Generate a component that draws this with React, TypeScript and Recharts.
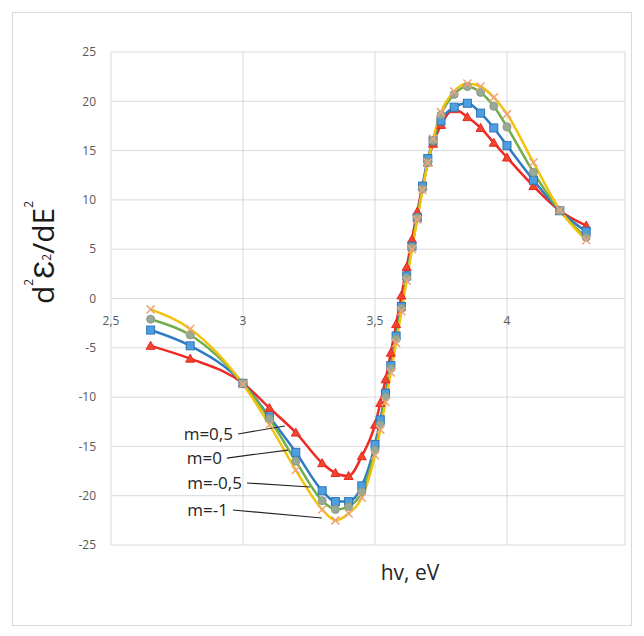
import React from 'react';
import { LineChart, Line, XAxis, YAxis, CartesianGrid, ReferenceLine, ReferenceDot, Label } from 'recharts';

// photon energy, eV
const energy = [2.65, 2.8, 3.0, 3.1, 3.2, 3.3, 3.35, 3.4, 3.45, 3.5, 3.52, 3.54, 3.56, 3.58, 3.6, 3.62, 3.64, 3.66, 3.68, 3.7, 3.72, 3.75, 3.8, 3.85, 3.9, 3.95, 4.0, 4.1, 4.2, 4.3];

// d2e2/dE2 for each m
const mHalf = [-4.8, -6.1, -8.6, -11.1, -13.6, -16.7, -17.7, -18.0, -16.0, -12.8, -10.6, -8.2, -5.5, -2.6, 0.3, 3.2, 6.0, 8.8, 11.4, 13.8, 15.7, 17.6, 19.2, 18.4, 17.3, 15.8, 14.3, 11.4, 8.9, 7.4];
const mZero = [-3.2, -4.8, -8.6, -12.0, -15.6, -19.5, -20.6, -20.6, -19.0, -14.8, -12.3, -9.6, -6.8, -3.8, -0.8, 2.3, 5.3, 8.2, 11.4, 14.2, 16.0, 18.0, 19.4, 19.8, 18.8, 17.3, 15.5, 12.0, 8.9, 6.8];
const mMinusHalf = [-2.1, -3.7, -8.6, -12.2, -16.5, -20.5, -21.4, -21.1, -19.6, -15.4, -12.8, -10.0, -7.1, -4.1, -1.0, 2.1, 5.2, 8.2, 11.1, 13.8, 16.0, 18.6, 20.7, 21.5, 20.9, 19.5, 17.4, 12.8, 8.9, 6.2];
const mMinusOne = [-1.1, -3.1, -8.7, -12.8, -17.4, -21.4, -22.5, -21.8, -20.2, -15.9, -13.3, -10.5, -7.5, -4.5, -1.3, 1.8, 5.0, 8.0, 11.0, 13.8, 16.2, 18.9, 21.0, 21.8, 21.5, 20.4, 18.7, 13.8, 9.0, 5.9];

const xTicks = [2.5, 3, 3.5, 4];
const yTicks = [-25, -20, -15, -10, -5, 0, 5, 10, 15, 20, 25];

// callout labels pointing at the curves (data coords)
const callouts = [
  { text: 'm=0,5', x1: 2.981, y1: -13.74, x2: 3.159, y2: -12.93 },
  { text: 'm=0', x1: 2.939, y1: -16.18, x2: 3.17, y2: -15.37 },
  { text: 'm=-0,5', x1: 3.015, y1: -18.71, x2: 3.254, y2: -19.12 },
  { text: 'm=-1', x1: 2.962, y1: -21.45, x2: 3.299, y2: -22.26 },
];

const data = energy.map((x, i) => ({ x, a: mHalf[i], b: mZero[i], c: mMinusHalf[i], d: mMinusOne[i] }));

const W = 644;
const H = 636;
const PLOT_TOP = 52;
const PLOT_BOTTOM = 545;
const ZERO_Y = PLOT_TOP + (PLOT_BOTTOM - PLOT_TOP) / 2;
const FONT = "'Open Sans', sans-serif";

const fmt = (v: number) => String(v).replace('.', ',');

const XTick = (props: any) => {
  const { x, payload } = props;
  return (
    <text x={x} y={ZERO_Y + 26} textAnchor="middle" fill="#595959" fontSize={12} fontFamily={FONT}>
      {fmt(payload.value)}
    </text>
  );
};

const triangle = (props: any) => {
  const { cx, cy, index } = props;
  if (cx == null || cy == null) return null;
  return <path key={`tr-${index}`} d={`M${cx},${cy - 4.5}L${cx + 4.5},${cy + 3.5}L${cx - 4.5},${cy + 3.5}Z`} fill="#f0452e" stroke="#e62a22" strokeWidth={1} />;
};

const square = (props: any) => {
  const { cx, cy, index } = props;
  if (cx == null || cy == null) return null;
  return <rect key={`sq-${index}`} x={cx - 4} y={cy - 4} width={8} height={8} fill="#4d9fe0" stroke="#2e75b6" strokeWidth={1} />;
};

const circle = (props: any) => {
  const { cx, cy, index } = props;
  if (cx == null || cy == null) return null;
  return <circle key={`ci-${index}`} cx={cx} cy={cy} r={4} fill="#9aa896" stroke="#8a9a86" strokeWidth={1} />;
};

const cross = (props: any) => {
  const { cx, cy, index } = props;
  if (cx == null || cy == null) return null;
  return (
    <path key={`cr-${index}`} d={`M${cx - 4},${cy - 4}L${cx + 4},${cy + 4}M${cx - 4},${cy + 4}L${cx + 4},${cy - 4}`} stroke="#eea47a" strokeWidth={1.5} fill="none" />
  );
};

const YTitle = (props: any) => {
  const vb = props.viewBox;
  const cx = vb.x + 42;
  const cy = vb.y + vb.height / 2 - 46;
  return (
    <text transform={`translate(${cx},${cy}) rotate(-90)`} textAnchor="middle" dominantBaseline="central" fill="#1a1a1a" fontSize={30} fontFamily={FONT}>
      d<tspan fontSize={12} dy={-14}>2</tspan>
      <tspan dy={14}>Ɛ</tspan>
      <tspan fontSize={12} dy={4}>2</tspan>
      <tspan dy={-4}>/dE</tspan>
      <tspan fontSize={12} dy={-14}>2</tspan>
    </text>
  );
};

const XTitle = (props: any) => {
  const vb = props.viewBox;
  return (
    <text x={vb.x + vb.width / 2 + 42} y={vb.y + 35} textAnchor="middle" fill="#262626" fontSize={21} fontFamily={FONT}>
      hv, eV
    </text>
  );
};

export default function App() {
  return (
    <div style={{ position: 'absolute', left: 0, top: 0, width: W, height: H, background: '#fff' }}>
      <div style={{ position: 'absolute', left: 12, top: 12, width: 620, height: 614, border: '1px solid #d9d9d9', boxSizing: 'border-box' }} />
      <LineChart width={W} height={H} data={data} margin={{ top: PLOT_TOP, right: 19, bottom: 0, left: 0 }}>
        <CartesianGrid stroke="#d9d9d9" strokeWidth={1} />
        <XAxis
          type="number"
          dataKey="x"
          domain={[2.5, 4.447]}
          ticks={xTicks}
          axisLine={false}
          tickLine={false}
          height={H - PLOT_BOTTOM}
          tick={<XTick />}
        >
          <Label content={<XTitle />} />
        </XAxis>
        <YAxis
          type="number"
          domain={[-25, 25]}
          ticks={yTicks}
          width={111}
          axisLine={false}
          tickLine={false}
          tickSize={0}
          tickMargin={15}
          tick={{ fill: '#595959', fontSize: 12, fontFamily: FONT }}
        >
          <Label content={<YTitle />} />
        </YAxis>
        <Line type="monotone" dataKey="a" stroke="#ee2a24" strokeWidth={2.5} dot={triangle} activeDot={false} isAnimationActive={false} />
        <Line type="monotone" dataKey="b" stroke="#2e7bc4" strokeWidth={2.5} dot={square} activeDot={false} isAnimationActive={false} />
        <Line type="monotone" dataKey="c" stroke="#6fae4a" strokeWidth={2.5} dot={circle} activeDot={false} isAnimationActive={false} />
        <Line type="monotone" dataKey="d" stroke="#f2c20f" strokeWidth={2.5} dot={cross} activeDot={false} isAnimationActive={false} />
        {callouts.map((c) => (
          <ReferenceLine
            key={`l-${c.text}`}
            segment={[{ x: c.x1, y: c.y1 }, { x: c.x2, y: c.y2 }]}
            stroke="#262626"
            strokeWidth={1.2}
          />
        ))}
        {callouts.map((c) => (
          <ReferenceDot
            key={`t-${c.text}`}
            x={c.x1}
            y={c.y1}
            r={0}
            fill="none"
            stroke="none"
            label={{ value: c.text, position: 'left', offset: 5, fill: '#262626', fontSize: 17, fontFamily: FONT }}
          />
        ))}
      </LineChart>
    </div>
  );
}
